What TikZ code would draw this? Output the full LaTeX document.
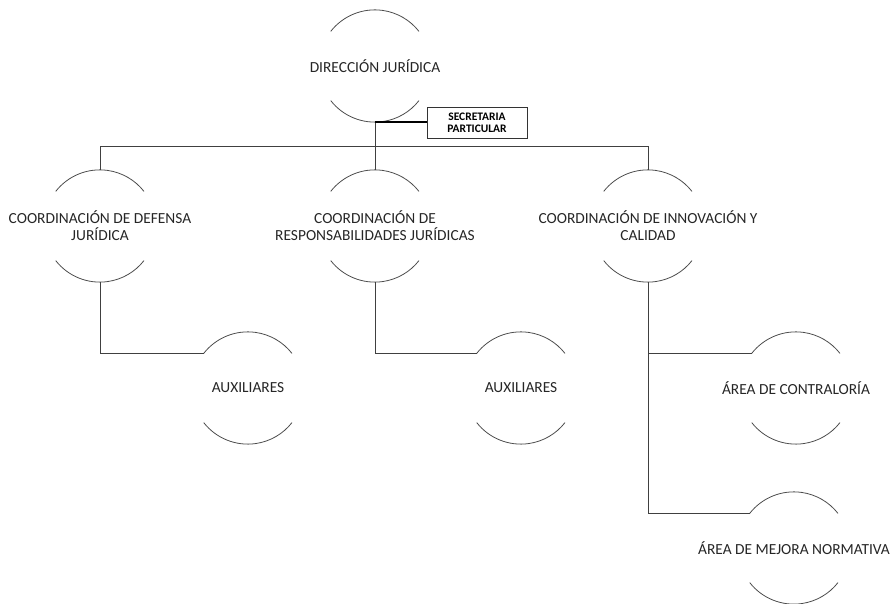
\documentclass[tikz,border=0pt]{standalone}
\usepackage{fontspec}
\setmainfont{Carlito}
\begin{document}
\begin{tikzpicture}[x=1pt,y=1pt,
  unit/.style={circle,draw=none,minimum size=112pt,inner sep=0pt},
  lbl/.style={font=\fontsize{15.4}{17}\selectfont,text=black!85,align=center,inner sep=0pt},
  arcline/.style={draw=black!70,line width=0.8pt},
  conn/.style={draw=black!75,line width=0.9pt},
  secbox/.style={draw=black!80,line width=0.9pt,minimum width=100pt,minimum height=31pt,inner sep=0pt,align=center,font=\fontsize{11.5}{11.7}\selectfont\bfseries}]
\useasboundingbox (0,0) rectangle (894,604);
% nodes
\node[unit,label={[lbl]center:DIRECCIÓN JURÍDICA}] (d) at (375,538) {};
\node[unit,label={[lbl]center:COORDINACIÓN DE DEFENSA\\JURÍDICA}] (c1) at (100,378) {};
\node[unit,label={[lbl]center:COORDINACIÓN DE\\RESPONSABILIDADES JURÍDICAS}] (c2) at (375,378) {};
\node[unit,label={[lbl]center:COORDINACIÓN DE INNOVACIÓN Y\\CALIDAD}] (c3) at (648,378) {};
\node[unit,label={[lbl]center:AUXILIARES}] (a1) at (248,216) {};
\node[unit,label={[lbl]center:AUXILIARES}] (a2) at (521,216) {};
\node[unit,label={[lbl]center:ÁREA DE CONTRALORÍA}] (r1) at (796,216) {};
\node[unit,label={[lbl]center:ÁREA DE MEJORA NORMATIVA}] (r2) at (794,56) {};
\node[secbox] (sec) at (477,481.5) {SECRETARIA\\PARTICULAR};
\coordinate (bus) at (375,458);
% arcs
\foreach \n in {d,c1,c2,c3,a1,a2,r1,r2}{
  \draw[arcline] (\n.142) arc[start angle=142,end angle=38,radius=56pt];
  \draw[arcline] (\n.218) arc[start angle=218,end angle=322,radius=56pt];
}
% connectors
\draw[conn] (d.south) -- (bus);
\draw[conn] (c1.north) -- (c1.north |- bus) -- (c3.north |- bus) -- (c3.north);
\draw[conn] (c2.north) -- (c2.north |- bus);
\draw[black,line width=2.2pt] (d.south) -- (d.south -| sec.west);
\draw[conn] (c1.south) |- (a1.142);
\draw[conn] (c2.south) |- (a2.142);
\draw[conn] (c3.south) |- (r1.142);
\draw[conn] (c3.south) |- (r2.142);
\end{tikzpicture}
\end{document}
